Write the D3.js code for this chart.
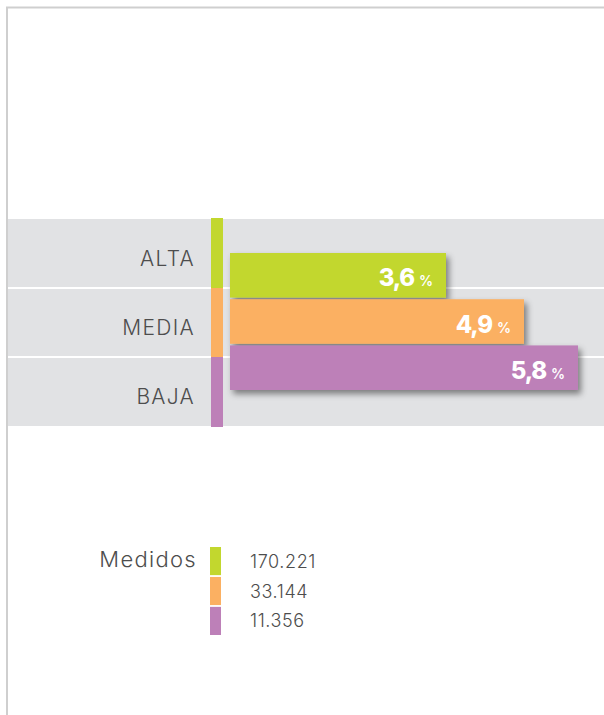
<!DOCTYPE html>
<html>
<head>
<meta charset="utf-8">
<script src="https://cdn.jsdelivr.net/npm/d3@7"></script>
<style>
  html, body { margin: 0; padding: 0; background: #fff; }
  svg { display: block; }
</style>
</head>
<body>
<div id="chart"></div>
<script>
// datos del gráfico
const categories = ['ALTA', 'MEDIA', 'BAJA'];
const values = [3.6, 4.9, 5.8];
const colors = ['#c2d72e', '#fbb062', '#bd80b8'];
const medidos = [170221, 33144, 11356];
const legendTitle = 'Medidos';

const width = 604, height = 715;
const font = 'Inter, "Open Sans", sans-serif';

const es = d3.formatLocale({ decimal: ',', thousands: '.', grouping: [3], currency: ['', ''] });
const fmtPct = es.format('.1f');
const fmtNum = es.format(',d');

const svg = d3.select('#chart').append('svg')
    .attr('width', width)
    .attr('height', height);

// sombra de las barras
const defs = svg.append('defs');
defs.append('filter')
    .attr('id', 'shadow')
    .attr('x', '-10%').attr('y', '-20%')
    .attr('width', '130%').attr('height', '160%')
    .append('feDropShadow')
    .attr('dx', 3).attr('dy', 4)
    .attr('stdDeviation', 3)
    .attr('flood-color', '#000')
    .attr('flood-opacity', 0.45);

// marco
svg.append('path')
    .attr('d', `M7,${height} V7.5 H${width}`)
    .attr('fill', 'none')
    .attr('stroke', '#cfcfcf')
    .attr('stroke-width', 2);

// filas de fondo
const yRow = d3.scaleBand().domain(categories).range([219, 426]);
// barras
const yBar = d3.scaleBand().domain(categories).range([253, 390]).paddingInner(0.035);
const x = d3.scaleLinear().domain([0, 6]).range([230, 590]);

svg.append('rect')
    .attr('x', 8).attr('y', yRow.range()[0])
    .attr('width', width - 8).attr('height', yRow.range()[1] - yRow.range()[0])
    .attr('fill', '#e1e2e4');

svg.append('g')
    .selectAll('line')
    .data(categories.slice(1))
    .join('line')
    .attr('x1', 8).attr('x2', width)
    .attr('y1', d => yRow(d)).attr('y2', d => yRow(d))
    .attr('stroke', '#fff')
    .attr('stroke-width', 2);

// franja de color
svg.append('g')
    .selectAll('rect')
    .data(categories)
    .join('rect')
    .attr('x', 211).attr('width', 12)
    .attr('y', (d, i) => yRow(d) - (i === 0 ? 1 : 0))
    .attr('height', (d, i) => yRow.bandwidth() + (i === 0 || i === 2 ? 1 : 0))
    .attr('fill', (d, i) => colors[i]);

// etiquetas de categoría
svg.append('g')
    .selectAll('text')
    .data(categories)
    .join('text')
    .attr('x', 195)
    .attr('y', d => yRow(d) + yRow.bandwidth() / 2 + 12)
    .attr('text-anchor', 'end')
    .attr('font-family', font)
    .attr('font-weight', 300)
    .attr('font-size', 21)
    .attr('letter-spacing', 1.3)
    .attr('fill', '#4d4d4d')
    .text(d => d);

// barras
const bars = svg.append('g')
    .selectAll('g')
    .data(categories)
    .join('g');

bars.append('rect')
    .attr('x', x(0))
    .attr('y', d => yBar(d))
    .attr('width', (d, i) => x(values[i]) - x(0))
    .attr('height', yBar.bandwidth())
    .attr('fill', (d, i) => colors[i])
    .attr('filter', 'url(#shadow)');

const lbl = bars.append('text')
    .attr('x', (d, i) => x(values[i]) - 13)
    .attr('y', d => yBar(d) + yBar.bandwidth() / 2 + 11)
    .attr('text-anchor', 'end')
    .attr('font-family', font)
    .attr('fill', '#fff');

lbl.append('tspan')
    .attr('font-weight', 800)
    .attr('font-size', 24)
    .attr('letter-spacing', -1.2)
    .text((d, i) => fmtPct(values[i]));

lbl.append('tspan')
    .attr('dx', 5)
    .attr('font-weight', 600)
    .attr('font-size', 14)
    .text('%');

// leyenda
const yLeg = d3.scaleBand().domain(categories).range([547, 635]).paddingInner(0.06);

svg.append('text')
    .attr('x', 197)
    .attr('y', 567)
    .attr('text-anchor', 'end')
    .attr('font-family', font)
    .attr('font-weight', 300)
    .attr('font-size', 22)
    .attr('letter-spacing', 1.3)
    .attr('fill', '#4d4d4d')
    .text(legendTitle);

const leg = svg.append('g')
    .selectAll('g')
    .data(categories)
    .join('g');

leg.append('rect')
    .attr('x', 210).attr('width', 11)
    .attr('y', d => yLeg(d))
    .attr('height', yLeg.bandwidth())
    .attr('fill', (d, i) => colors[i]);

leg.append('text')
    .attr('x', 250)
    .attr('y', d => yLeg(d) + yLeg.bandwidth() / 2 + 6.5)
    .attr('font-family', font)
    .attr('font-weight', 300)
    .attr('font-size', 18)
    .attr('letter-spacing', 0.6)
    .attr('fill', '#4d4d4d')
    .text((d, i) => fmtNum(medidos[i]));
</script>
</body>
</html>
